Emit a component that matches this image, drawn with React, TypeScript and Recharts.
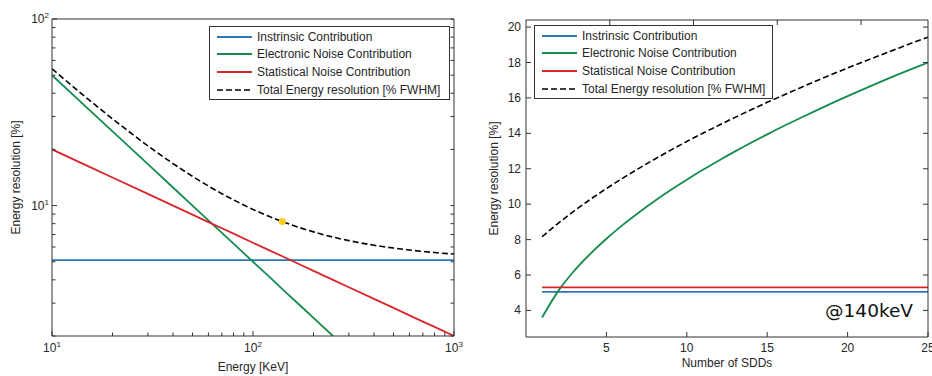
import React from "react";
import { ComposedChart, Line, XAxis, YAxis, Legend, ReferenceDot } from "recharts";

// left panel: energy resolution vs photon energy (log-log)
const energy = [10, 15, 20, 30, 40, 50, 60, 70, 80, 100, 120, 140, 170, 200, 250, 300, 400, 500, 600, 700, 800, 1000];
const intrinsicE = [5.1, 5.1, 5.1, 5.1, 5.1, 5.1, 5.1, 5.1, 5.1, 5.1, 5.1, 5.1, 5.1, 5.1, 5.1, 5.1, 5.1, 5.1, 5.1, 5.1, 5.1, 5.1];
const electronicE = [50, 33.3, 25, 16.67, 12.5, 10, 8.33, 7.14, 6.25, 5, 4.17, 3.57, 2.94, 2.5, 2.0, null, null, null, null, null, null, null];
const statisticalE = [20, 16.33, 14.14, 11.55, 10, 8.94, 8.16, 7.56, 7.07, 6.32, 5.77, 5.35, 4.85, 4.47, 4.0, 3.65, 3.16, 2.83, 2.58, 2.39, 2.24, 2.0];
const totalE = [54.09, 37.47, 29.17, 20.91, 16.8, 14.35, 12.73, 11.58, 10.73, 9.54, 8.76, 8.21, 7.63, 7.23, 6.78, 6.49, 6.13, 5.92, 5.78, 5.68, 5.6, 5.5];
const markerEnergy = 140;
const markerValue = 8.21;

const energyTicks = [10, 20, 30, 40, 50, 60, 70, 80, 90, 100, 200, 300, 400, 500, 600, 700, 800, 900, 1000];
const energyLabels = [10, 100, 1000];
const resTicksLog = [2, 3, 4, 5, 6, 7, 8, 9, 10, 20, 30, 40, 50, 60, 70, 80, 90, 100];
const resLabelsLog = [10, 100];

// right panel: energy resolution vs number of SDDs @140 keV
const sdds = [1, 2, 3, 4, 5, 6, 7, 8, 9, 10, 11, 12, 13, 14, 15, 16, 17, 18, 19, 20, 21, 22, 23, 24, 25];
const intrinsicN = [5.05, 5.05, 5.05, 5.05, 5.05, 5.05, 5.05, 5.05, 5.05, 5.05, 5.05, 5.05, 5.05, 5.05, 5.05, 5.05, 5.05, 5.05, 5.05, 5.05, 5.05, 5.05, 5.05, 5.05, 5.05];
const electronicN = [3.6, 5.09, 6.24, 7.2, 8.05, 8.82, 9.52, 10.18, 10.8, 11.38, 11.94, 12.47, 12.98, 13.47, 13.94, 14.4, 14.84, 15.27, 15.69, 16.1, 16.5, 16.89, 17.27, 17.64, 18.0];
const statisticalN = [5.3, 5.3, 5.3, 5.3, 5.3, 5.3, 5.3, 5.3, 5.3, 5.3, 5.3, 5.3, 5.3, 5.3, 5.3, 5.3, 5.3, 5.3, 5.3, 5.3, 5.3, 5.3, 5.3, 5.3, 5.3];
const totalN = [8.16, 8.92, 9.62, 10.27, 10.88, 11.46, 12.01, 12.54, 13.05, 13.54, 14.01, 14.46, 14.9, 15.33, 15.75, 16.15, 16.55, 16.94, 17.32, 17.69, 18.05, 18.4, 18.75, 19.1, 19.43];

const sddTicks = [5, 10, 15, 20, 25];
const resTicksLin = [4, 6, 8, 10, 12, 14, 16, 18, 20];

const seriesNames = [
  "Instrinsic Contribution",
  "Electronic Noise Contribution",
  "Statistical Noise Contribution",
  "Total Energy resolution [% FWHM]",
];

const BLUE = "#2f77b4";
const GREEN = "#128c4f";
const RED = "#d9262b";
const BLACK = "#000000";
const FRAME = "#333333";
const TEXT = "#262626";
const colors = [BLUE, GREEN, RED, BLACK];

const energyRows = energy.map((e, i) => ({
  energy: e,
  intrinsic: intrinsicE[i],
  electronic: electronicE[i],
  statistical: statisticalE[i],
  total: totalE[i],
}));

const sddRows = sdds.map((n, i) => ({
  n,
  intrinsic: intrinsicN[i],
  electronic: electronicN[i],
  statistical: statisticalN[i],
  total: totalN[i],
}));

// matlab-ish ticks: marks point into the plot box
function FrameTick(props: any) {
  const { x, y, payload, side, labeled, log, gap } = props;
  const v = payload.value;
  const major = !log || labeled.includes(v);
  const len = major ? 5 : 3.5;
  let mark;
  if (side === "bottom") mark = <line x1={x} y1={y} x2={x} y2={y - len} />;
  else if (side === "top") mark = <line x1={x} y1={y} x2={x} y2={y + len} />;
  else if (side === "left") mark = <line x1={x} y1={y} x2={x + len} y2={y} />;
  else mark = <line x1={x} y1={y} x2={x - len} y2={y} />;

  const text = log ? (
    <>
      10
      <tspan dy={-5} fontSize={8}>
        {Math.round(Math.log10(v))}
      </tspan>
    </>
  ) : (
    v
  );
  let label = null;
  if (labeled.includes(v) && side === "bottom") {
    label = (
      <text x={x} y={y + gap} textAnchor="middle" fill={TEXT} fontSize={12}>
        {text}
      </text>
    );
  } else if (labeled.includes(v) && side === "left") {
    label = (
      <text x={x - gap} y={y + 4} textAnchor="end" fill={TEXT} fontSize={12}>
        {text}
      </text>
    );
  }
  return (
    <g>
      <g stroke={FRAME} strokeWidth={1}>{mark}</g>
      {label}
    </g>
  );
}

function LegendBox({ width }: { width: number }) {
  return (
    <div
      style={{
        width,
        boxSizing: "border-box",
        border: `1px solid ${FRAME}`,
        background: "#fff",
        padding: "1px 0 1px 7px",
        fontSize: 12,
        color: TEXT,
        lineHeight: 1,
      }}
    >
      {seriesNames.map((name, i) => (
        <div key={name} style={{ display: "flex", alignItems: "center", height: 17.6 }}>
          <svg width={35} height={4} style={{ marginRight: 5, flex: "none" }}>
            <line
              x1={0}
              y1={2}
              x2={35}
              y2={2}
              stroke={colors[i]}
              strokeWidth={i === 3 ? 1.6 : 1.8}
              strokeDasharray={i === 3 ? "6 3" : undefined}
            />
          </svg>
          <span style={{ whiteSpace: "nowrap" }}>{name}</span>
        </div>
      ))}
    </div>
  );
}

function EnergyPanel() {
  return (
    <ComposedChart width={466} height={376} data={energyRows} margin={{ top: 18, right: 11, bottom: 0, left: 0 }}>
      <XAxis
        xAxisId="b"
        dataKey="energy"
        type="number"
        scale="log"
        domain={[10, 1000]}
        allowDataOverflow
        ticks={energyTicks}
        interval={0}
        height={40}
        tickSize={0}
        tickMargin={0}
        tickLine={false}
        axisLine={{ stroke: FRAME }}
        tick={<FrameTick side="bottom" labeled={energyLabels} log gap={16} />}
        label={{ value: "Energy [KeV]", position: "insideBottom", offset: 5, fill: TEXT, fontSize: 12 }}
      />
      <XAxis
        xAxisId="t"
        orientation="top"
        type="number"
        scale="log"
        domain={[10, 1000]}
        allowDataOverflow
        ticks={energyTicks}
        interval={0}
        height={1}
        tickSize={0}
        tickMargin={0}
        tickLine={false}
        axisLine={{ stroke: FRAME }}
        tick={<FrameTick side="top" labeled={[]} log />}
      />
      <YAxis
        yAxisId="l"
        type="number"
        scale="log"
        domain={[2, 100]}
        allowDataOverflow
        ticks={resTicksLog}
        interval={0}
        width={52}
        tickSize={0}
        tickMargin={0}
        tickLine={false}
        axisLine={{ stroke: FRAME }}
        tick={<FrameTick side="left" labeled={resLabelsLog} log gap={3} />}
        label={{
          value: "Energy resolution [%]",
          angle: -90,
          position: "insideLeft",
          offset: 16,
          fill: TEXT,
          fontSize: 12,
          style: { textAnchor: "middle" },
        }}
      />
      <YAxis
        yAxisId="r"
        orientation="right"
        type="number"
        scale="log"
        domain={[2, 100]}
        allowDataOverflow
        ticks={resTicksLog}
        interval={0}
        width={1}
        tickSize={0}
        tickMargin={0}
        tickLine={false}
        axisLine={{ stroke: FRAME }}
        tick={<FrameTick side="right" labeled={[]} log />}
      />
      <Legend
        verticalAlign="middle"
        content={() => <LegendBox width={241} />}
        wrapperStyle={{ left: 209, top: 26, width: 241, height: "auto" }}
      />
      <Line xAxisId="b" yAxisId="l" dataKey="intrinsic" stroke={BLUE} strokeWidth={1.8} dot={false} type="linear" isAnimationActive={false} />
      <Line xAxisId="b" yAxisId="l" dataKey="electronic" stroke={GREEN} strokeWidth={1.8} dot={false} type="linear" isAnimationActive={false} />
      <Line xAxisId="b" yAxisId="l" dataKey="statistical" stroke={RED} strokeWidth={1.8} dot={false} type="linear" isAnimationActive={false} />
      <Line
        xAxisId="b"
        yAxisId="l"
        dataKey="total"
        stroke={BLACK}
        strokeWidth={1.6}
        strokeDasharray="6 3"
        dot={false}
        type="monotone"
        isAnimationActive={false}
      />
      <ReferenceDot xAxisId="b" yAxisId="l" x={markerEnergy} y={markerValue} r={3.5} fill="#ffcc1f" stroke="none" />
    </ComposedChart>
  );
}

function SddPanel() {
  return (
    <ComposedChart width={466} height={376} data={sddRows} margin={{ top: 19, right: 3, bottom: 0, left: 0 }}>
      <XAxis
        xAxisId="b"
        dataKey="n"
        type="number"
        domain={[0, 25]}
        allowDataOverflow
        ticks={sddTicks}
        interval={0}
        height={39}
        tickSize={0}
        tickMargin={0}
        tickLine={false}
        axisLine={{ stroke: FRAME }}
        tick={<FrameTick side="bottom" labeled={sddTicks} gap={15} />}
        label={{ value: "Number of SDDs", position: "insideBottom", offset: 9, fill: TEXT, fontSize: 12 }}
      />
      <XAxis
        xAxisId="t"
        orientation="top"
        type="number"
        domain={[0, 25]}
        allowDataOverflow
        ticks={sddTicks}
        interval={0}
        height={1}
        tickSize={0}
        tickMargin={0}
        tickLine={false}
        axisLine={{ stroke: FRAME }}
        tick={<FrameTick side="top" labeled={[]} />}
      />
      <YAxis
        yAxisId="l"
        type="number"
        domain={[2.5, 20.4]}
        allowDataOverflow
        ticks={resTicksLin}
        interval={0}
        width={60}
        tickSize={0}
        tickMargin={0}
        tickLine={false}
        axisLine={{ stroke: FRAME }}
        tick={<FrameTick side="left" labeled={resTicksLin} gap={5} />}
        label={{
          value: "Energy resolution [%]",
          angle: -90,
          position: "insideLeft",
          offset: 28,
          fill: TEXT,
          fontSize: 12,
          style: { textAnchor: "middle" },
        }}
      />
      <YAxis
        yAxisId="r"
        orientation="right"
        type="number"
        domain={[2.5, 20.4]}
        allowDataOverflow
        ticks={resTicksLin}
        interval={0}
        width={1}
        tickSize={0}
        tickMargin={0}
        tickLine={false}
        axisLine={{ stroke: FRAME }}
        tick={<FrameTick side="right" labeled={[]} />}
      />
      <Legend
        verticalAlign="middle"
        content={() => <LegendBox width={239} />}
        wrapperStyle={{ left: 68, top: 25, width: 239, height: "auto" }}
      />
      <Line xAxisId="b" yAxisId="l" dataKey="intrinsic" stroke={BLUE} strokeWidth={1.8} dot={false} type="linear" isAnimationActive={false} />
      <Line xAxisId="b" yAxisId="l" dataKey="electronic" stroke={GREEN} strokeWidth={1.8} dot={false} type="monotone" isAnimationActive={false} />
      <Line xAxisId="b" yAxisId="l" dataKey="statistical" stroke={RED} strokeWidth={1.8} dot={false} type="linear" isAnimationActive={false} />
      <Line
        xAxisId="b"
        yAxisId="l"
        dataKey="total"
        stroke={BLACK}
        strokeWidth={1.6}
        strokeDasharray="6 3"
        dot={false}
        type="monotone"
        isAnimationActive={false}
      />
    </ComposedChart>
  );
}

export default function App() {
  return (
    <div
      style={{
        position: "absolute",
        left: 0,
        top: 0,
        width: 932,
        height: 376,
        background: "#fff",
        fontFamily: "'Liberation Sans', Arial, sans-serif",
      }}
    >
      <div style={{ position: "absolute", left: 0, top: 0 }}>
        <EnergyPanel />
      </div>
      <div style={{ position: "absolute", left: 466, top: 0 }}>
        <SddPanel />
        <div
          style={{
            position: "absolute",
            right: 19,
            top: 302,
            fontFamily: "'DejaVu Sans', sans-serif",
            fontSize: 18.5,
            lineHeight: 1,
            color: "#111",
            whiteSpace: "nowrap",
          }}
        >
          @140keV
        </div>
      </div>
    </div>
  );
}
